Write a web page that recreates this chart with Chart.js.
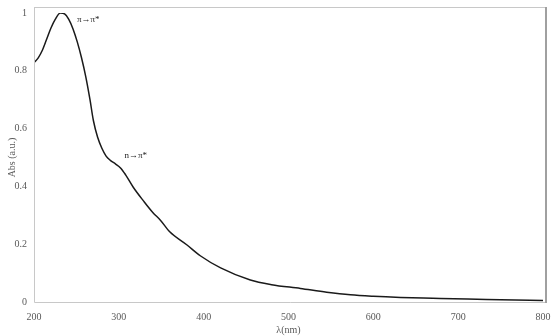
<!DOCTYPE html>
<html>
<head>
<meta charset="utf-8">
<script src="https://cdn.jsdelivr.net/npm/chart.js@4/dist/chart.umd.min.js"></script>
<style>
  html, body { margin: 0; padding: 0; background: #fff; }
  #wrap { width: 552px; height: 336px; }
</style>
</head>
<body>
<div id="wrap"><canvas id="uvChart"></canvas></div>
<script>
// wavelength (nm) and absorbance
const wavelengths = [200, 205, 210, 215, 220, 225, 231, 236, 241, 246, 251, 256, 261, 266, 270, 275, 280, 285, 290, 296, 302, 308, 317, 329, 340, 349, 360, 380, 396, 420, 455, 480, 514, 545, 573, 600, 632, 670, 711, 750, 800];
const absorbance = [0.828, 0.845, 0.872, 0.91, 0.948, 0.978, 1.0, 0.997, 0.978, 0.945, 0.9, 0.845, 0.78, 0.7, 0.628, 0.57, 0.532, 0.505, 0.49, 0.478, 0.464, 0.44, 0.397, 0.35, 0.31, 0.283, 0.243, 0.198, 0.16, 0.118, 0.076, 0.06, 0.047, 0.034, 0.025, 0.02, 0.016, 0.013, 0.01, 0.008, 0.005];
const xTicks = [200, 300, 400, 500, 600, 700, 800];
const yTicks = [0, 0.2, 0.4, 0.6, 0.8, 1];
const bandLabels = ["π→π*", "n→π*"];
const bandAt = [[264, 0.976], [320, 0.507]];

const FONT = "'Liberation Serif', 'DejaVu Serif', serif";
const TEXT = "#595959";

const points = wavelengths.map((w, i) => ({ x: w, y: absorbance[i] }));

// frame + band labels
const framePlugin = {
  id: "frame",
  afterDraw(chart) {
    const { ctx, chartArea: a, scales } = chart;
    ctx.save();
    ctx.strokeStyle = "#c8c8c8";
    ctx.lineWidth = 1;
    ctx.beginPath();
    ctx.moveTo(a.left + 0.5, a.top - 6);
    ctx.lineTo(a.left + 0.5, a.bottom + 0.5);
    ctx.lineTo(a.right + 3, a.bottom + 0.5);
    ctx.moveTo(a.left, a.top - 5.5);
    ctx.lineTo(a.right + 3, a.top - 5.5);
    ctx.stroke();
    ctx.strokeStyle = "#a0a0a0";
    ctx.lineWidth = 2;
    ctx.beginPath();
    ctx.moveTo(a.right + 3, a.top - 6);
    ctx.lineTo(a.right + 3, a.bottom + 1);
    ctx.stroke();

    ctx.fillStyle = "#222";
    ctx.font = "9px " + FONT;
    ctx.textAlign = "center";
    ctx.textBaseline = "middle";
    bandLabels.forEach((t, i) => {
      const px = scales.x.getPixelForValue(bandAt[i][0]);
      const py = scales.y.getPixelForValue(bandAt[i][1]);
      ctx.fillText(t, px, py);
    });
    ctx.restore();
  }
};

new Chart(document.getElementById("uvChart"), {
  type: "line",
  data: {
    datasets: [{
      data: points,
      borderColor: "#1a1a1a",
      borderWidth: 1.5,
      pointRadius: 0,
      tension: 0.4,
      cubicInterpolationMode: "monotone",
      fill: false
    }]
  },
  options: {
    responsive: true,
    maintainAspectRatio: false,
    animation: false,
    layout: { padding: { top: 12, right: 0, left: 0, bottom: 0 } },
    plugins: { legend: { display: false }, tooltip: { enabled: false } },
    scales: {
      x: {
        type: "linear",
        min: 200,
        max: 800,
        afterBuildTicks: (s) => { s.ticks = xTicks.map(v => ({ value: v })); },
        afterFit: (s) => { s.height = 34; s.paddingRight = 9; },
        grid: { display: false, drawTicks: false },
        border: { display: false },
        ticks: { color: TEXT, font: { family: FONT, size: 10 }, padding: 9, maxRotation: 0 },
        title: { display: true, text: "λ(nm)", color: TEXT, font: { family: FONT, size: 10 }, padding: { top: 1, bottom: 0 } }
      },
      y: {
        min: 0,
        max: 1,
        afterBuildTicks: (s) => { s.ticks = yTicks.map(v => ({ value: v })); },
        afterFit: (s) => { s.width = 34; },
        grid: { display: false, drawTicks: false },
        border: { display: false },
        ticks: { color: TEXT, font: { family: FONT, size: 10 }, padding: 7, callback: (v) => String(v) },
        title: { display: true, text: "Abs (a.u.)", color: TEXT, font: { family: FONT, size: 10 }, padding: { top: 6, bottom: 0 } }
      }
    }
  },
  plugins: [framePlugin]
});
</script>
</body>
</html>
